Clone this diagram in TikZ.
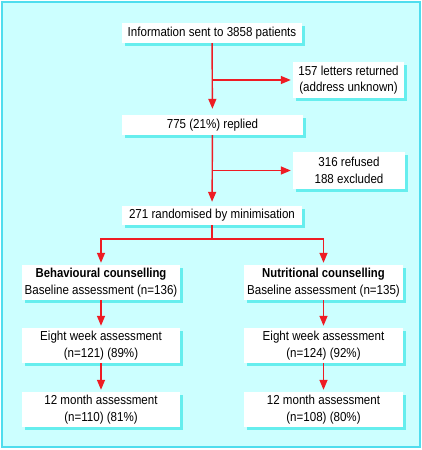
\documentclass[tikz,border=0pt]{standalone}
\usepackage{fontspec}
\setmainfont[FakeStretch=0.89, BoldFeatures={FakeStretch=0.87}]{Liberation Sans}
\usetikzlibrary{arrows.meta,shadows}

\definecolor{panel}{HTML}{CCFFFF}
\definecolor{rim}{HTML}{4FDDEE}
\definecolor{shade}{HTML}{66EEEE}
\definecolor{arrowred}{HTML}{EE1C24}

\tikzset{
	flowbox/.style={fill=white, inner sep=0pt, align=center, font=\fontsize{13}{16.5}\selectfont,
		drop shadow={shadow xshift=3pt, shadow yshift=-3pt, fill=shade, opacity=1}},
	flowarrow/.style={draw=arrowred, line width=1.4pt, -{Triangle[length=10pt,width=8pt]}, shorten >=2pt}
}

\begin{document}
\begin{tikzpicture}[x=1pt, y=-1pt]

		\useasboundingbox (0, 0) rectangle (422, 450);
		\draw[rim, fill=panel, line width=1.5pt](2, 2) rectangle (420, 447);

		\node[flowbox, minimum width=180pt, minimum height=20pt] (info) at(212, 33){Information sent to 3858 patients};
		\node[flowbox, minimum width=111pt, minimum height=36pt] (returned) at(348.5, 80){157 letters returned\\(address unknown)};
		\node[flowbox, minimum width=181pt, minimum height=20pt] (replied) at(212.5, 125){775 (21\%) replied};
		\node[flowbox, minimum width=112pt, minimum height=37pt] (refused) at(349, 170.5){316 refused\\188 excluded};
		\node[flowbox, minimum width=180pt, minimum height=19pt] (random) at(212, 215.5){271 randomised by minimisation};

		\node[flowbox, minimum width=158pt, minimum height=35pt] (behav) at(101, 282.5){\textbf{Behavioural counselling}\\Baseline assessment (n=136)};
		\node[flowbox, minimum width=159pt, minimum height=35pt] (nutri) at(323.5, 282.5){\textbf{Nutritional counselling}\\Baseline assessment (n=135)};

		\node[flowbox, minimum width=158pt, minimum height=35pt] (behaveight) at(101, 345.5){Eight week assessment\\(n=121) (89\%)};
		\node[flowbox, minimum width=159pt, minimum height=35pt] (nutrieight) at(323.5, 345.5){Eight week assessment\\(n=124) (92\%)};

		\node[flowbox, minimum width=158pt, minimum height=35pt] (behavyear) at(101, 409.5){12 month assessment\\(n=110) (81\%)};
		\node[flowbox, minimum width=159pt, minimum height=35pt] (nutriyear) at(323.5, 409.5){12 month assessment\\(n=108) (80\%)};

		\coordinate (split) at(212, 239);

		\draw[flowarrow, shorten >=6pt](info) -- (replied);
			\draw[flowarrow](info.south |- returned.west) -- (returned.west);
		\draw[flowarrow, shorten >=4pt](replied) -- (random);
			\draw[flowarrow](replied.south |- refused.west) -- (refused.west);
		\draw[flowarrow](random.south) -- (split) -| (behav.north);
		\draw[flowarrow](split) -| (nutri.north);

		\draw[flowarrow](behav) -- (behaveight);
		\draw[flowarrow](behaveight) -- (behavyear);
		\draw[flowarrow](nutri) -- (nutrieight);
		\draw[flowarrow](nutrieight) -- (nutriyear);

	\end{tikzpicture}
\end{document}
